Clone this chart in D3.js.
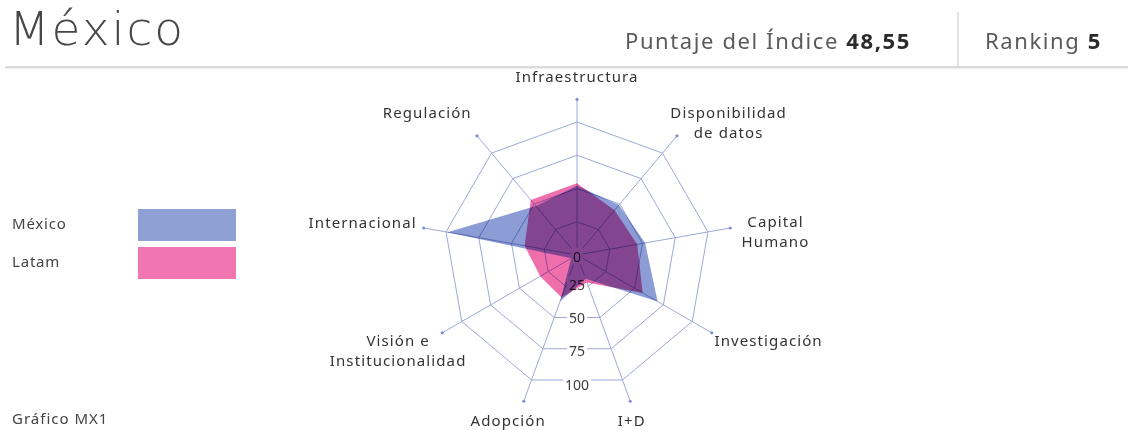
<!DOCTYPE html>
<html>
<head>
<meta charset="utf-8">
<script src="https://cdnjs.cloudflare.com/ajax/libs/d3/7.8.5/d3.min.js"></script>
<style>
  html, body { margin: 0; padding: 0; background: #fff; }
  svg { display: block; font-family: 'Noto Sans', 'Open Sans', sans-serif; }
</style>
</head>
<body>
<svg id="chart" width="1128" height="430"></svg>
<script>
// chart data
const axisLabels = [
  ['Infraestructura'],
  ['Disponibilidad', 'de datos'],
  ['Capital', 'Humano'],
  ['Investigación'],
  ['I+D'],
  ['Adopción'],
  ['Visión e', 'Institucionalidad'],
  ['Internacional'],
  ['Regulación']
];
const mexicoValues = [52, 49, 52, 70, 19, 37, 5, 99, 48];
const latamValues = [54, 44, 46, 57, 22, 34, 32, 40, 54];
const tickValues = [0, 25, 50, 75, 100];
const seriesNames = ['México', 'Latam'];
const seriesColors = ['#8c9dd5', '#ef6fad'];
const indexScore = '48,55';
const ranking = '5';

// small hand nudges for the axis label placement (dx, dy)
const labelNudge = [[0, -2], [9, 12], [4, 9], [3, -3], [-6, -1], [0, -1], [22, 0], [0, -2], [-16, -8]];

const svg = d3.select('#chart');
const cx = 577, cy = 255;
const gridColor = '#9ea9d8';

// header
svg.append('text')
  .attr('x', 9).attr('y', 45)
  .attr('font-family', "'DejaVu Sans', sans-serif")
  .attr('font-weight', 200)
  .attr('font-size', 47)
  .attr('letter-spacing', 2)
  .attr('fill', '#464646')
  .text('México');

svg.append('rect')
  .attr('x', 5).attr('y', 66).attr('width', 1123).attr('height', 2.5)
  .attr('fill', '#dcdcdc');

svg.append('line')
  .attr('x1', 958).attr('x2', 958).attr('y1', 12).attr('y2', 67)
  .attr('stroke', '#cfcfcf').attr('stroke-width', 1.2);

const score = svg.append('text')
  .attr('x', 625).attr('y', 49)
  .attr('font-size', 22)
  .attr('letter-spacing', 1.6)
  .attr('fill', '#5a5a5a');
score.append('tspan').text('Puntaje del Índice ');
score.append('tspan').attr('font-weight', 700).attr('fill', '#2b2b2b').text(indexScore);

const rank = svg.append('text')
  .attr('x', 985).attr('y', 49)
  .attr('font-size', 22)
  .attr('letter-spacing', 1.6)
  .attr('fill', '#5a5a5a');
rank.append('tspan').text('Ranking ');
rank.append('tspan').attr('font-weight', 700).attr('fill', '#2b2b2b').text(ranking);

// radar scales
const n = axisLabels.length;
const r = d3.scaleLinear().domain([0, 100]).range([0, 133]);
const angle = d3.scaleLinear().domain([0, n]).range([0, 2 * Math.PI]);
const rAxis = r(117);

const radar = svg.append('g').attr('transform', `translate(${cx},${cy})`);

const ringLine = d3.lineRadial()
  .angle((d, i) => angle(i))
  .radius(d => r(d))
  .curve(d3.curveLinearClosed);

// grid rings
radar.selectAll('.ring')
  .data(tickValues.slice(1))
  .join('path')
  .attr('class', 'ring')
  .attr('d', t => ringLine(d3.range(n).map(() => t)))
  .attr('fill', 'none')
  .attr('stroke', gridColor)
  .attr('stroke-width', 1);

// spokes
radar.selectAll('.spoke')
  .data(d3.range(n))
  .join('line')
  .attr('class', 'spoke')
  .attr('x1', 0).attr('y1', 0)
  .attr('x2', i => rAxis * Math.sin(angle(i)))
  .attr('y2', i => -rAxis * Math.cos(angle(i)))
  .attr('stroke', gridColor)
  .attr('stroke-width', 1);

radar.selectAll('.spoke-end')
  .data(d3.range(n))
  .join('circle')
  .attr('class', 'spoke-end')
  .attr('cx', i => rAxis * Math.sin(angle(i)))
  .attr('cy', i => -rAxis * Math.cos(angle(i)))
  .attr('r', 1.6)
  .attr('fill', '#7f8fcf');

// tick labels with white backdrop, straight down
const tickG = radar.selectAll('.tick')
  .data(tickValues)
  .join('g')
  .attr('class', 'tick')
  .attr('transform', t => `translate(0,${t === 0 ? 1 : r(t) - 4})`);

tickG.append('text')
  .attr('text-anchor', 'middle')
  .attr('dominant-baseline', 'central')
  .attr('font-size', 14)
  .attr('fill', '#3a3a3a')
  .text(t => t);

tickG.each(function () {
  const bb = this.querySelector('text').getBBox();
  d3.select(this).insert('rect', 'text')
    .attr('x', bb.x - 2).attr('y', bb.y + 1)
    .attr('width', bb.width + 4).attr('height', bb.height - 2)
    .attr('fill', '#fff');
});

// series areas
const area = d3.lineRadial()
  .angle((d, i) => angle(i))
  .radius(d => r(d))
  .curve(d3.curveLinearClosed);

radar.selectAll('.series')
  .data([latamValues, mexicoValues])
  .join('path')
  .attr('class', 'series')
  .attr('d', area)
  .attr('fill', (d, i) => i === 0 ? seriesColors[1] : seriesColors[0])
  .style('mix-blend-mode', 'multiply');

// axis labels
const lineH = 20;
radar.selectAll('.axis-label')
  .data(axisLabels)
  .join('g')
  .attr('class', 'axis-label')
  .each(function (lines, i) {
    const g = d3.select(this);
    lines.forEach((t, j) => {
      g.append('text')
        .attr('x', 0).attr('y', j * lineH)
        .attr('text-anchor', 'middle')
        .attr('dominant-baseline', 'central')
        .attr('font-size', 15)
        .attr('letter-spacing', 1.1)
        .attr('fill', '#333')
        .text(t);
    });
    const bb = this.getBBox();
    const a = angle(i);
    const s = Math.sin(a), c = Math.cos(a);
    const pad = 8;
    const lx = (rAxis + pad) * s + bb.width / 2 * s + labelNudge[i][0];
    const ly = -(rAxis + pad) * c - bb.height / 2 * c * 1.3 + labelNudge[i][1];
    g.attr('transform', `translate(${lx - (bb.x + bb.width / 2)},${ly - (bb.y + bb.height / 2)})`);
  });

// legend
const legend = svg.selectAll('.legend')
  .data(seriesNames)
  .join('g')
  .attr('class', 'legend')
  .attr('transform', (d, i) => `translate(0,${209 + i * 38})`);

legend.append('text')
  .attr('x', 12).attr('y', 14)
  .attr('dominant-baseline', 'central')
  .attr('font-size', 15)
  .attr('letter-spacing', 0.8)
  .attr('fill', '#444')
  .text(d => d);

legend.append('rect')
  .attr('x', 138).attr('y', 0)
  .attr('width', 98).attr('height', 32)
  .attr('fill', (d, i) => i === 0 ? '#8fa0d5' : '#f075b1');

svg.append('text')
  .attr('x', 12).attr('y', 424)
  .attr('font-size', 15)
  .attr('letter-spacing', 1)
  .attr('fill', '#444')
  .text('Gráfico MX1');
</script>
</body>
</html>
